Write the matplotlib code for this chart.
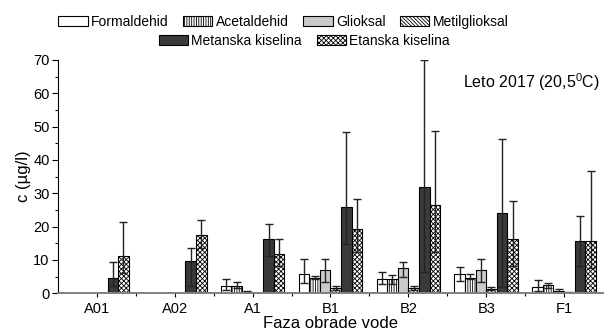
import numpy as np
import matplotlib
matplotlib.use("Agg")
import matplotlib.pyplot as plt

plt.rcParams["font.family"] = ["Liberation Sans", "DejaVu Sans"]
plt.rcParams["mathtext.fontset"] = "custom"
plt.rcParams["mathtext.rm"] = "Liberation Sans"
plt.rcParams["hatch.linewidth"] = 0.6

nan = np.nan
faze = ["A01", "A02", "A1", "B1", "B2", "B3", "F1"]
serije = ["Formaldehid", "Acetaldehid", "Glioksal", "Metilglioksal",
          "Metanska kiselina", "Etanska kiselina"]

formaldehid = [nan, nan, 2.1, 5.7, 4.2, 5.7, 1.9]
formaldehid_up = [nan, nan, 2.1, 4.6, 2.2, 2.3, 2.1]
formaldehid_low = [nan, nan, 1.1, 2.7, 1.4, 2.0, 1.1]

acetaldehid = [nan, nan, 2.3, 4.5, 4.2, 4.7, 2.6]
acetaldehid_up = [nan, nan, 1.0, 0.8, 1.3, 1.0, 0.4]
acetaldehid_low = [nan, nan, 0.8, 0.3, 1.3, 0.5, 0.9]

glioksal = [nan, nan, 0.5, 6.9, 7.6, 6.9, 0.6]
glioksal_up = [nan, nan, 0.3, 3.4, 1.7, 3.4, 0.6]
glioksal_low = [nan, nan, 0.3, 3.4, 2.6, 3.4, 0.5]

metilglioksal = [nan, nan, nan, 1.5, 1.5, 1.4, 0.2]
metilglioksal_up = [nan, nan, nan, 0.6, 0.6, 0.6, 0.2]
metilglioksal_low = [nan, nan, nan, 0.4, 0.4, 0.4, 0.1]

metanska = [4.7, 9.7, 16.3, 26.0, 31.8, 24.1, 15.7]
metanska_up = [4.6, 4.0, 4.4, 22.5, 38.3, 22.2, 7.5]
metanska_low = [2.5, 7.5, 5.1, 11.1, 25.5, 22.1, 7.5]

etanska = [11.2, 17.5, 11.8, 19.2, 26.4, 16.3, 15.7]
etanska_up = [10.1, 4.5, 4.4, 9.1, 22.2, 11.5, 21.1]
etanska_low = [5.0, 4.0, 3.5, 6.7, 14.1, 8.0, 8.0]

vrednosti = [formaldehid, acetaldehid, glioksal, metilglioksal, metanska, etanska]
gore = [formaldehid_up, acetaldehid_up, glioksal_up, metilglioksal_up, metanska_up, etanska_up]
dole = [formaldehid_low, acetaldehid_low, glioksal_low, metilglioksal_low, metanska_low, etanska_low]

boje = ["white", "white", "#cacaca", "white", "#3a3a3a", "white"]
srafure = [None, "|||||||", None, "\\\\\\\\\\\\\\\\\\", None, "xxxxxxx"]

fig = plt.figure(figsize=(6.06, 3.32), dpi=100)
ax = fig.add_axes([0.0957, 0.1166, 0.8993, 0.7028])

x = np.arange(len(faze))
w = 0.136
handles = []
for i in range(len(serije)):
    pos = x + (i - 2.5) * w
    b = ax.bar(pos, vrednosti[i], w, color=boje[i], edgecolor="black",
               linewidth=0.8, hatch=srafure[i], label=serije[i], zorder=2)
    handles.append(b)
    ax.errorbar(pos, vrednosti[i], yerr=[dole[i], gore[i]], fmt="none",
                ecolor="#222222", elinewidth=1, capsize=3, capthick=1, zorder=3)

ax.set_xlim(-0.5, 6.5)
ax.set_ylim(0, 70)
ax.set_xticks(x)
ax.set_xticklabels(faze, fontsize=10.5)
ax.set_xticks(x[:-1] + 0.5, minor=True)
ax.set_yticks(np.arange(0, 71, 10))
ax.set_yticks(np.arange(5, 70, 10), minor=True)
ax.tick_params(axis="y", labelsize=10.5, length=4, width=0.8, pad=2)
ax.tick_params(axis="y", which="minor", length=2.5, width=0.8)
ax.tick_params(axis="x", length=3, width=0.8, pad=3)
ax.tick_params(axis="x", which="minor", length=2, width=0.8)

ax.spines["top"].set_visible(False)
ax.spines["right"].set_visible(False)
ax.spines["bottom"].set_color("#808080")
ax.spines["bottom"].set_linewidth(1.4)
ax.spines["bottom"].set_zorder(4)
ax.spines["left"].set_linewidth(0.8)

ax.set_ylabel("c (µg/l)", fontsize=12, labelpad=2)
ax.set_xlabel("Faza obrade vode", fontsize=12, labelpad=0)

fig.text(0.99, 1 - 81.7 / 332, "Leto 2017 (20,5$^{\\mathregular{0}}$C)",
         fontsize=11.5, ha="right", va="center")

leg_kw = dict(frameon=False, fontsize=10, handlelength=2.1, handleheight=0.75,
              handletextpad=0.25, columnspacing=1.05, borderpad=0, borderaxespad=0)
l1 = fig.legend(handles[:4], serije[:4], loc="center", ncol=4,
                bbox_to_anchor=(0.468, 1 - 21.7 / 332), **leg_kw)
l2 = fig.legend(handles[4:], serije[4:], loc="center", ncol=2,
                bbox_to_anchor=(0.502, 1 - 40.7 / 332), **leg_kw)

fig.savefig("out.png", dpi=100)
